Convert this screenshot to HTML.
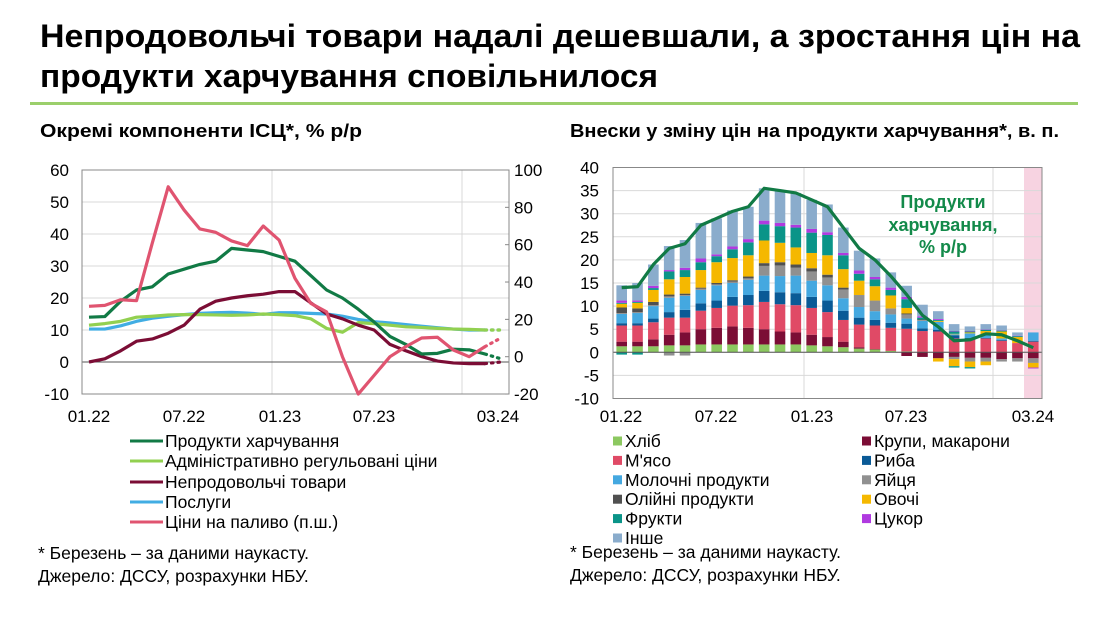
<!DOCTYPE html>
<html><head><meta charset="utf-8">
<style>
body{margin:0;background:#fff}
svg text{font-family:"Liberation Sans",Arial,sans-serif;fill:#000}
</style></head><body>
<svg id="s" width="1108" height="612" xmlns="http://www.w3.org/2000/svg">
<text x="40" y="47" font-size="32" font-weight="bold" textLength="1040" lengthAdjust="spacingAndGlyphs">Непродовольчі товари надалі дешевшали, а зростання цін на</text>
<text x="40" y="87" font-size="32" font-weight="bold" textLength="618" lengthAdjust="spacingAndGlyphs">продукти харчування сповільнилося</text>
<rect x="30" y="102" width="1048" height="3" fill="#9bcf6b"/>
<text x="40" y="137" font-size="18" font-weight="bold" textLength="322" lengthAdjust="spacingAndGlyphs">Окремі компоненти ІСЦ*, % р/р</text>
<text x="570" y="137" font-size="18" font-weight="bold" textLength="489" lengthAdjust="spacingAndGlyphs">Внески у зміну цін на продукти харчування*, в. п.</text>
<g id="L"></g><g id="R"></g>
<g font-size="17.5">
<line x1="130" y1="441" x2="163" y2="441" stroke="#117a45" stroke-width="3"/><text x="165" y="447">Продукти харчування</text>
<line x1="130" y1="461" x2="163" y2="461" stroke="#92d050" stroke-width="3"/><text x="165" y="467">Адміністративно регульовані ціни</text>
<line x1="130" y1="482" x2="163" y2="482" stroke="#7b0d35" stroke-width="3"/><text x="165" y="488">Непродовольчі товари</text>
<line x1="130" y1="502" x2="163" y2="502" stroke="#41ade3" stroke-width="3"/><text x="165" y="508">Послуги</text>
<line x1="130" y1="522" x2="163" y2="522" stroke="#e05470" stroke-width="3"/><text x="165" y="528">Ціни на паливо (п.ш.)</text>
<text x="38" y="559">* Березень – за даними наукасту.</text>
<text x="38" y="582">Джерело: ДССУ, розрахунки НБУ.</text>
<text x="570" y="558">* Березень – за даними наукасту.</text>
<text x="570" y="581">Джерело: ДССУ, розрахунки НБУ.</text>
</g>
<g id="RL" font-size="17.5"></g>
</svg>
<script>
const NS="http://www.w3.org/2000/svg";
function el(p,t,a,txt){const e=document.createElementNS(NS,t);for(const k in a)e.setAttribute(k,a[k]);if(txt!==undefined)e.textContent=txt;p.appendChild(e);return e;}
const FS=17;
// LEFT
const L=document.getElementById('L');
const lx0=82,lx1=509,ly=v=>362-v*3.2, ry=v=>356.7-v*1.867, mx=i=>89+i*15.84;
for(let v=-10;v<=60;v+=10){el(L,'line',{x1:lx0,x2:lx1,y1:ly(v),y2:ly(v),stroke:'#d9d9d9','stroke-width':1});
 el(L,'text',{x:69,y:ly(v)+6,'text-anchor':'end','font-size':FS},String(v));}
for(let v=-20;v<=100;v+=20){el(L,'text',{x:514,y:ry(v)+6,'font-size':FS},String(v));
 el(L,'line',{x1:lx1-4,x2:lx1,y1:ry(v),y2:ry(v),stroke:'#888'});}
[272,462].forEach(x=>el(L,'line',{x1:x,x2:x,y1:ly(60),y2:ly(-10),stroke:'#d9d9d9'}));
el(L,'line',{x1:lx0,x2:lx1,y1:ly(0),y2:ly(0),stroke:'#555'});
el(L,'rect',{x:lx0,y:ly(60),width:lx1-lx0,height:ly(-10)-ly(60),fill:'none',stroke:'#888'});
[['01.22',89],['07.22',184],['01.23',280],['07.23',374],['03.24',498]].forEach(a=>el(L,'text',{x:a[1],y:422,'text-anchor':'middle','font-size':FS},a[0]));
const ser=[
['#41ade3',[10.3,10.3,11.3,12.7,13.7,14.3,14.8,15.2,15.4,15.5,15.3,14.9,15.4,15.4,15.2,15,14.3,13.3,12.6,12.2,11.7,11.2,10.7,10.3,10,10],10,ly],
['#92d050',[11.5,12,12.7,14,14.3,14.7,14.8,14.8,14.7,14.6,14.7,15,14.8,14.5,13.5,10.5,9.3,12.3,12,11.5,11,10.8,10.5,10.3,10.2,10],10,ly],
['#7b0d35',[0,1,3.5,6.5,7.2,9,11.5,16.5,19,20,20.7,21.2,22,22,18.5,15,13.5,11.5,10,5.5,3.5,1.7,0.3,-0.3,-0.5,-0.5],0,ly],
['#117a45',[14,14.2,19,22.5,23.5,27.5,29,30.5,31.5,35.5,35,34.5,33,31.5,27,22.5,20,16.5,12.5,8,5.5,2.5,2.7,4,3.8,2.5],1,ly],
['#e05470',[27,27.5,30.5,30,61,91,78.6,68.4,66.6,62,59.5,70,62.5,42,28.6,24,0,-20,-10,0,5.4,10,10.4,3.6,0,5.4],10,ry]];
ser.forEach(s=>{const f=s[3];el(L,'polyline',{points:s[1].map((v,i)=>mx(i)+','+f(v)).join(' '),fill:'none',stroke:s[0],'stroke-width':3.2,'stroke-linejoin':'round'});
 el(L,'line',{x1:mx(25),y1:f(s[1][25]),x2:mx(26),y2:f(s[2]),stroke:s[0],'stroke-width':3.2,'stroke-dasharray':'1.5 5','stroke-linecap':'round'});});
// RIGHT
const R=document.getElementById('R');
const bx0=613,bx1=1042,by=v=>352.3-v*4.62,bm=i=>621.7+i*15.83;
el(R,'rect',{x:1024,y:by(40),width:bx1-1024,height:by(-10)-by(40),fill:'#f7d3e1'});
for(let v=-10;v<=40;v+=5){el(R,'line',{x1:bx0,x2:bx1,y1:by(v),y2:by(v),stroke:'#d9d9d9'});
 el(R,'text',{x:599,y:by(v)+6,'text-anchor':'end','font-size':FS},String(v));}
[804,993].forEach(x=>el(R,'line',{x1:x,x2:x,y1:by(40),y2:by(-10),stroke:'#d9d9d9'}));
const cols=['#8cc860','#7b0d35','#e04a66','#0a5a96','#44a8e0','#909090','#505050','#f5b800','#0a9488','#b03ae0','#8aaccc'];
const P=[[1.3,2.3,5.8,6.3,8.3,8.5,9.7,10.5,10.7,11.2,14.5],[1.3,2.3,5.8,6.3,8.5,8.7,9.5,10.7,10.9,11.2,15],[1.3,2.8,6.5,7.3,10,10.2,10.9,13.5,13.9,14.4,19],[1.5,3.8,7.5,8.7,11.8,12.1,12.5,15.8,17.5,17.8,23],[1.5,4.3,7.5,9.2,12.2,12.4,12.7,16.3,17.8,18.3,24.3],[1.7,5,9,10.6,13.5,13.8,14,17.8,19.5,20.3,28],[1.7,5.3,9.6,11.2,14.5,14.7,15,19.5,20.8,21.2,29],[1.7,5.6,10.1,12,15,15.3,15.6,20.4,22.3,22.9,30.7],[1.7,5.3,10.2,12.4,15.7,16,16.4,21,23.8,24.5,31.5],[1.7,5,10.9,13.3,16.6,18.7,19.3,24.2,27.7,28.5,35.5],[1.7,4.5,10.4,13,16.5,18.8,19.5,23.7,27.3,28,35],[1.7,4.3,10.2,12.8,16.6,18.3,19,22.7,27,27.6,34.5],[1.5,3.8,9.6,12,15.5,17.5,18.2,21.5,25.9,26.7,33],[1.3,3.3,8.7,11.2,14.5,16.2,16.8,21,25.4,26,32],[1.1,2.3,7,9,11.7,13.6,14,18,21,21.5,27],[0.8,1.1,6,7.5,9.8,12.4,12.4,15.5,17,17.7,22],[0.6,0.7,5.8,7,8.9,11.2,11.2,14.3,15.8,16.3,20.3],[0.3,0.3,5.3,6.4,8.2,9.5,9.5,12.3,13.5,14,17.3],[0.2,0.2,5.1,6.2,7.3,8.2,8.4,9.6,11.5,12,14.4],[0.1,0.1,4.6,5.2,6.8,7,7.1,7.1,7.5,7.8,10.3],[0,0,4.5,4.9,6.6,6.6,6.6,6.8,7,7.2,8.9],[0,0,3,3.7,3.9,3.9,3.9,4,4.5,4.6,6.1],[0,0,3,3.1,4.1,4.1,4.1,4.3,4.5,4.6,5.6],[0,0,3,3.1,3.9,3.9,3.9,4.6,4.9,5,6.1],[0,0,2.5,2.7,3,3,3,4.5,4.7,4.8,5.8],[0,0,2,2,2,2,2,3.3,3.5,3.6,4.3],[0,0,2.3,2.5,4.3,4.3,4.3,4.3,4.3,4.3,4.3]];
const N=[[[8,-0.5]],[[8,-0.5]],[],[[5,-0.7]],[[5,-0.7]],[],[],[],[],[],[],[],[],[],[],[],[],[],[[1,-0.8]],[[1,-1]],[[1,-1.3],[7,-2]],[[1,-1],[5,-1.5],[7,-3],[8,-3.3]],[[1,-1.2],[5,-2],[7,-3.2],[8,-3.5]],[[1,-1.2],[5,-2],[7,-2.8]],[[1,-1.5],[5,-2]],[[1,-1.3],[5,-2]],[[1,-1.3],[5,-2.3],[7,-3.3],[9,-3.5]]];
P.forEach((b,i)=>{let prev=0;const x=bm(i)-5.3;b.forEach((c,k)=>{if(c>prev+0.01)el(R,'rect',{x:x,y:by(c),width:10.6,height:by(prev)-by(c),fill:cols[k]});prev=Math.max(prev,c);});
 let pn=0;N[i].forEach(a=>{el(R,'rect',{x:x,y:by(pn),width:10.6,height:by(a[1])-by(pn),fill:cols[a[0]]});pn=a[1];});});
el(R,'line',{x1:bx0,x2:bx1,y1:by(0),y2:by(0),stroke:'#555'});
el(R,'rect',{x:bx0,y:by(40),width:bx1-bx0,height:by(-10)-by(40),fill:'none',stroke:'#888'});
const food=[14,14.2,19,22.5,23.5,27.5,29,30.5,31.5,35.5,35,34.5,33,31.5,27,22.5,20,16.5,12.5,8,5.5,2.5,2.7,4,3.8,2.5,1];
el(R,'polyline',{points:food.map((v,i)=>bm(i)+','+by(v)).join(' '),fill:'none',stroke:'#117a45','stroke-width':3.2,'stroke-linejoin':'round'});
[['01.22',621],['07.22',716],['01.23',812],['07.23',906],['03.24',1033]].forEach(a=>el(R,'text',{x:a[1],y:422,'text-anchor':'middle','font-size':FS},a[0]));
[['Продукти',208],['харчування,',231],['% р/р',253]].forEach(a=>el(R,'text',{x:943,y:a[1],'text-anchor':'middle','font-size':18,'font-weight':'bold',style:'fill:#138a4a'},a[0]));
// right legend
const RL=document.getElementById('RL');
const lg=[['Хліб',0,0,0],['Крупи, макарони',1,1,0],["М'ясо",2,0,1],['Риба',3,1,1],['Молочні продукти',4,0,2],['Яйця',5,1,2],['Олійні продукти',6,0,3],['Овочі',7,1,3],['Фрукти',8,0,4],['Цукор',9,1,4],['Інше',10,0,5]];
lg.forEach(a=>{const x=a[2]?862:613,y=441+a[3]*19.4;el(RL,'rect',{x:x,y:y-4.5,width:9,height:9,fill:cols[a[1]]});el(RL,'text',{x:x+12,y:y+6},a[0]);});
</script>
</body></html>
